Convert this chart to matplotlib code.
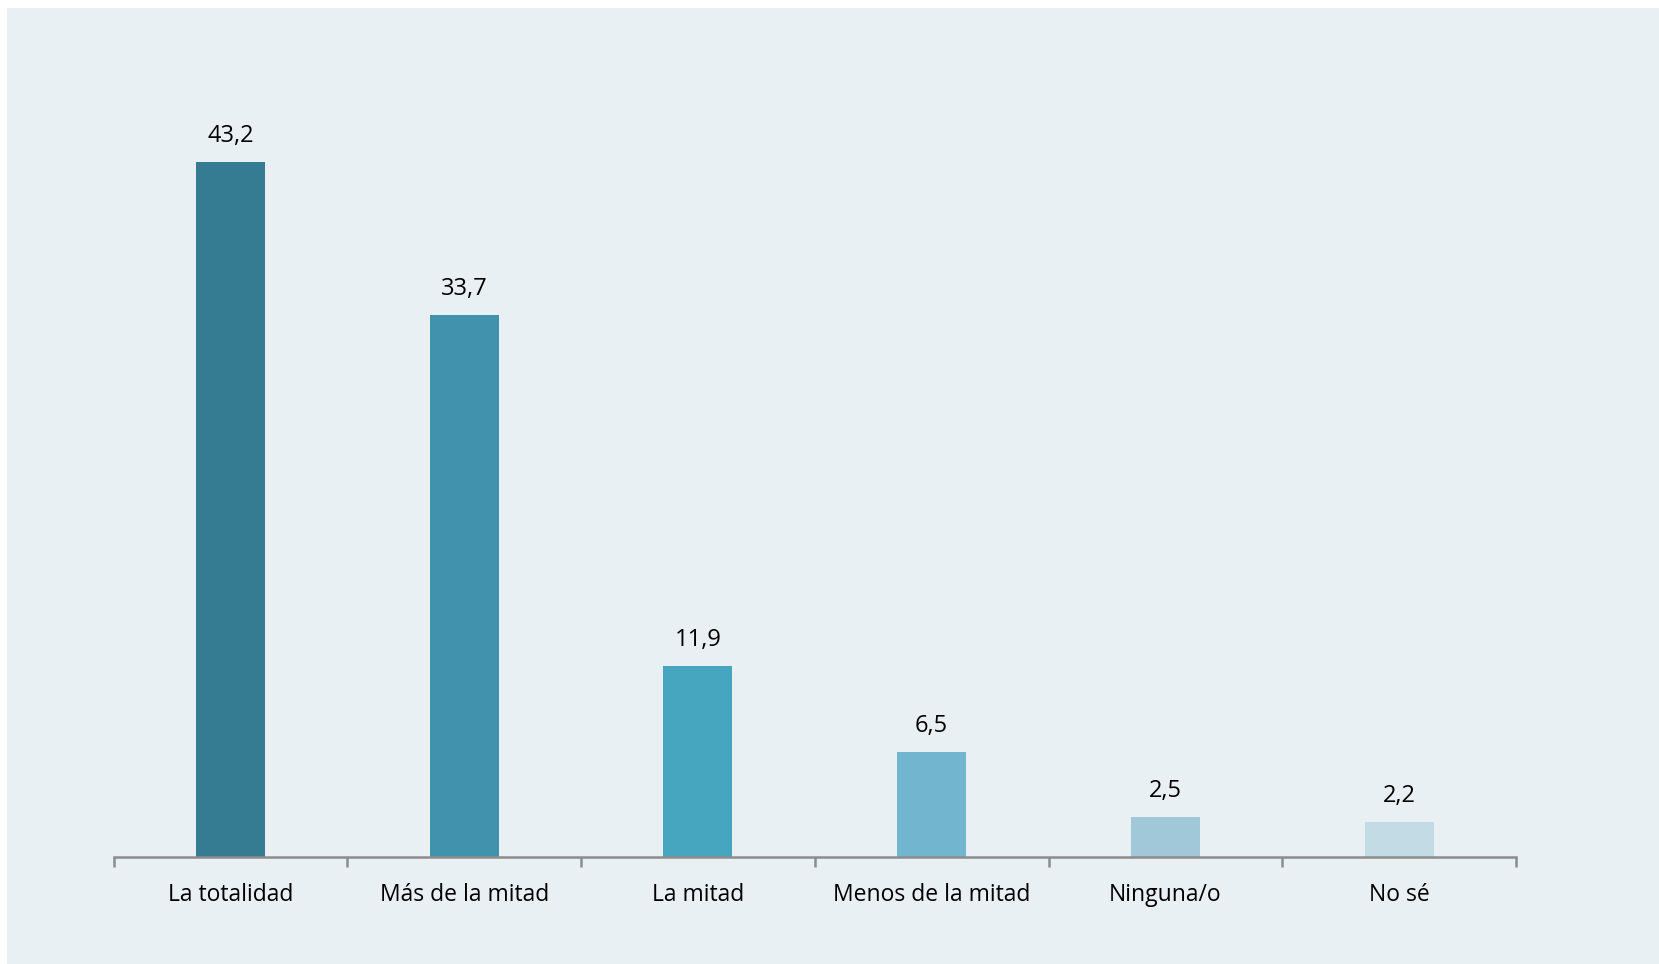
import numpy as np
import matplotlib.pyplot as plt
from matplotlib.patches import Rectangle

categories = ['La totalidad', 'Más de la mitad', 'La mitad', 'Menos de la mitad', 'Ninguna/o', 'No sé']
values = [43.2, 33.7, 11.9, 6.5, 2.5, 2.2]
labels = ['43,2', '33,7', '11,9', '6,5', '2,5', '2,2']
colors = ['#357B91', '#4192AC', '#47A6BF', '#71B5CE', '#A0C8D8', '#C2DBE4']

BG = '#E8F0F4'
plt.rcParams['font.family'] = ['Open Sans', 'DejaVu Sans']

fig = plt.figure(figsize=(16.59, 9.64), dpi=100)
fig.patches.append(Rectangle((7 / 1659, 0), 1, 956 / 964, transform=fig.transFigure,
                             facecolor=BG, edgecolor='none', zorder=-10))

ax = fig.add_axes([113.5 / 1659, 1 - 857 / 964, (1516 - 113.5) / 1659, 804.5 / 964])
ax.set_facecolor('none')

x = np.arange(len(categories))
ax.bar(x, values, width=0.295, color=colors, zorder=2)

for xi, v, lab in zip(x, values, labels):
    ax.annotate(lab, (xi, v), xytext=(0, 26), textcoords='offset pixels',
                ha='center', va='center', fontsize=17, color='black')

ax.set_xlim(-0.5, len(categories) - 0.5)
ax.set_ylim(0, 50)
ax.set_yticks([])
for s in ['top', 'right', 'left']:
    ax.spines[s].set_visible(False)
ax.spines['bottom'].set_color('#8C8C8C')
ax.spines['bottom'].set_linewidth(1.8)

ax.set_xticks(x)
ax.set_xticklabels(categories, fontsize=16.5)
ax.tick_params(axis='x', which='major', length=0, pad=19)
ax.set_xticks(np.arange(-0.5, len(categories)), minor=True)
ax.tick_params(axis='x', which='minor', length=7, width=1.8, color='#8C8C8C')

fig.savefig('out.png', dpi=100)
